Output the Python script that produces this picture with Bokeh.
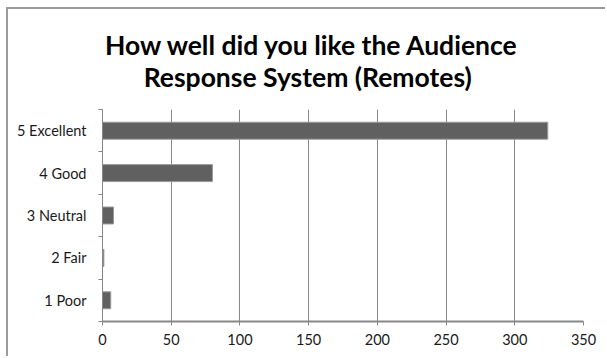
from bokeh.plotting import figure
from bokeh.models import Range1d, FixedTicker
from bokeh.embed import file_html
from bokeh.resources import INLINE

categories = ["1 Poor", "2 Fair", "3 Neutral", "4 Good", "5 Excellent"]
counts = [6, 1, 8, 80, 324]
x_ticks = [0, 50, 100, 150, 200, 250, 300, 350]
title_line1 = "How well did you like the Audience"
title_line2 = "Response System (Remotes)"

positions = list(range(1, len(categories) + 1))

p = figure(width=599, height=349, output_backend="svg", toolbar_location=None,
           x_range=Range1d(0, 350), y_range=Range1d(0.5, 5.5),
           min_border_left=94, min_border_right=24, min_border_top=99,
           min_border_bottom=37,
           margin=(7, 0, 0, 6),
           styles={"border-top": "2px solid #9a9a9a",
                   "border-left": "2px solid #9a9a9a"})
p.outline_line_color = None
p.background_fill_color = "white"
p.border_fill_color = "white"

# second line indented with non-breaking spaces so both lines look centred
p.title.text = title_line1 + "\n" + "\u00a0" * 6 + title_line2
p.title.align = "left"
p.title.offset = 2.5
p.title.standoff = 34
p.title.text_font = "Lato"
p.title.text_font_style = "bold"
p.title.text_font_size = "26.5px"
p.title.text_color = "black"

p.hbar(y=positions, right=counts, left=0, height=0.4,
       fill_color="#606060", line_color="#9a9a9a", line_width=1)

grey = "#878787"
label_font_size = "14.5px"
# x axis
p.xaxis.ticker = FixedTicker(ticks=x_ticks)
p.xaxis.axis_line_color = grey
p.xaxis.axis_line_width = 2
p.xaxis.major_tick_line_color = grey
p.xaxis.major_tick_out = 4
p.xaxis.major_tick_in = 0
p.xaxis.minor_tick_line_color = None
p.xaxis.major_label_text_font = "Lato"
p.xaxis.major_label_text_font_size = label_font_size
p.xaxis.major_label_text_color = "#1a1a1a"
p.xaxis.major_label_standoff = 8

# y axis
p.yaxis.ticker = FixedTicker(ticks=positions,
                             minor_ticks=[0.5, 1.5, 2.5, 3.5, 4.5, 5.5])
p.yaxis.major_label_overrides = {pos: c for pos, c in zip(positions, categories)}
p.yaxis.axis_line_color = grey
p.yaxis.axis_line_width = 1
p.yaxis.major_tick_line_color = None
p.yaxis.minor_tick_line_color = grey
p.yaxis.minor_tick_out = 4
p.yaxis.minor_tick_in = 0
p.yaxis.major_label_text_font = "Lato"
p.yaxis.major_label_text_font_size = label_font_size
p.yaxis.major_label_text_color = "#1a1a1a"
p.yaxis.major_label_standoff = 10

p.xgrid.ticker = FixedTicker(ticks=x_ticks)
p.xgrid.grid_line_color = grey
p.xgrid.grid_line_width = 1
p.ygrid.grid_line_color = None

open("out.html", "w").write(file_html(p, INLINE))
